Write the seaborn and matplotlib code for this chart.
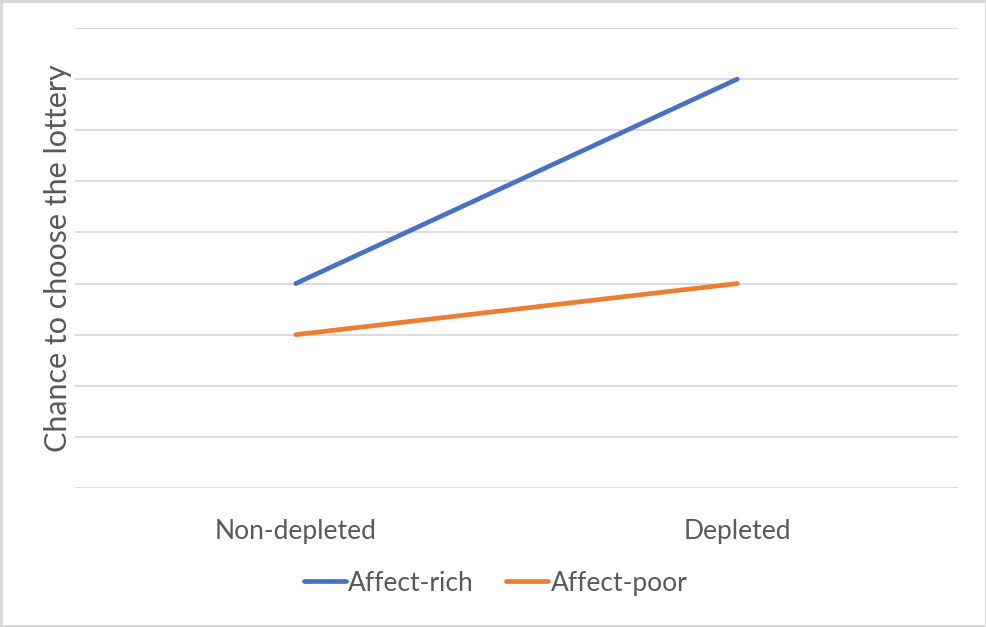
import numpy as np
import pandas as pd
import matplotlib
matplotlib.use('Agg')
import matplotlib.pyplot as plt
import seaborn as sns
from matplotlib.lines import Line2D

# ============ 数据 ============
conditions = ['Non-depleted', 'Depleted']
affect_rich = [4, 8]
affect_poor = [3, 4]
series_names = ['Affect-rich', 'Affect-poor']
y_ticks = list(range(0, 10))

df = pd.DataFrame({
    'condition': conditions * 2,
    'value': affect_rich + affect_poor,
    'type': [series_names[0]] * 2 + [series_names[1]] * 2,
})

sns.set_theme(style='white')
plt.rcParams['font.family'] = ['Lato', 'DejaVu Sans']

text_col = '#595959'
grid_col = '#d9d9d9'
colors = ['#4472C4', '#ED7D31']

fig = plt.figure(figsize=(9.87, 6.27), dpi=100)
fig.patch.set_edgecolor(grid_col)
fig.patch.set_linewidth(2.5)
ax = fig.add_axes([75 / 987, 1 - 488 / 627, (958 - 75) / 987, (488 - 28) / 627])

sns.lineplot(data=df, x='condition', y='value', hue='type',
             palette=colors, linewidth=3.4, ax=ax,
             legend=False, solid_capstyle='round')

ax.set_xlim(-0.5, 1.5)
ax.set_ylim(0, 9)
ax.set_yticks(y_ticks)
ax.set_yticklabels([])
ax.yaxis.grid(True, color=grid_col, linewidth=1.3)
ax.set_axisbelow(True)
for s in ax.spines.values():
    s.set_visible(False)
ax.tick_params(axis='both', length=0)
ax.tick_params(axis='x', pad=22, labelsize=19, labelcolor=text_col)
ax.set_xlabel('')
ax.set_ylabel('Chance to choose the lottery', fontsize=22, color=text_col, labelpad=-1)

handles = [Line2D([], [], color=c, linewidth=3.4, solid_capstyle='round') for c in colors]
leg = fig.legend(handles, series_names, loc='center', bbox_to_anchor=(0.502, 0.07),
                 ncol=2, frameon=False, fontsize=19, handlelength=1.6,
                 handletextpad=0.1, columnspacing=1.2)
for t in leg.get_texts():
    t.set_color(text_col)

fig.savefig('out.png', dpi=100, edgecolor=fig.get_edgecolor())
